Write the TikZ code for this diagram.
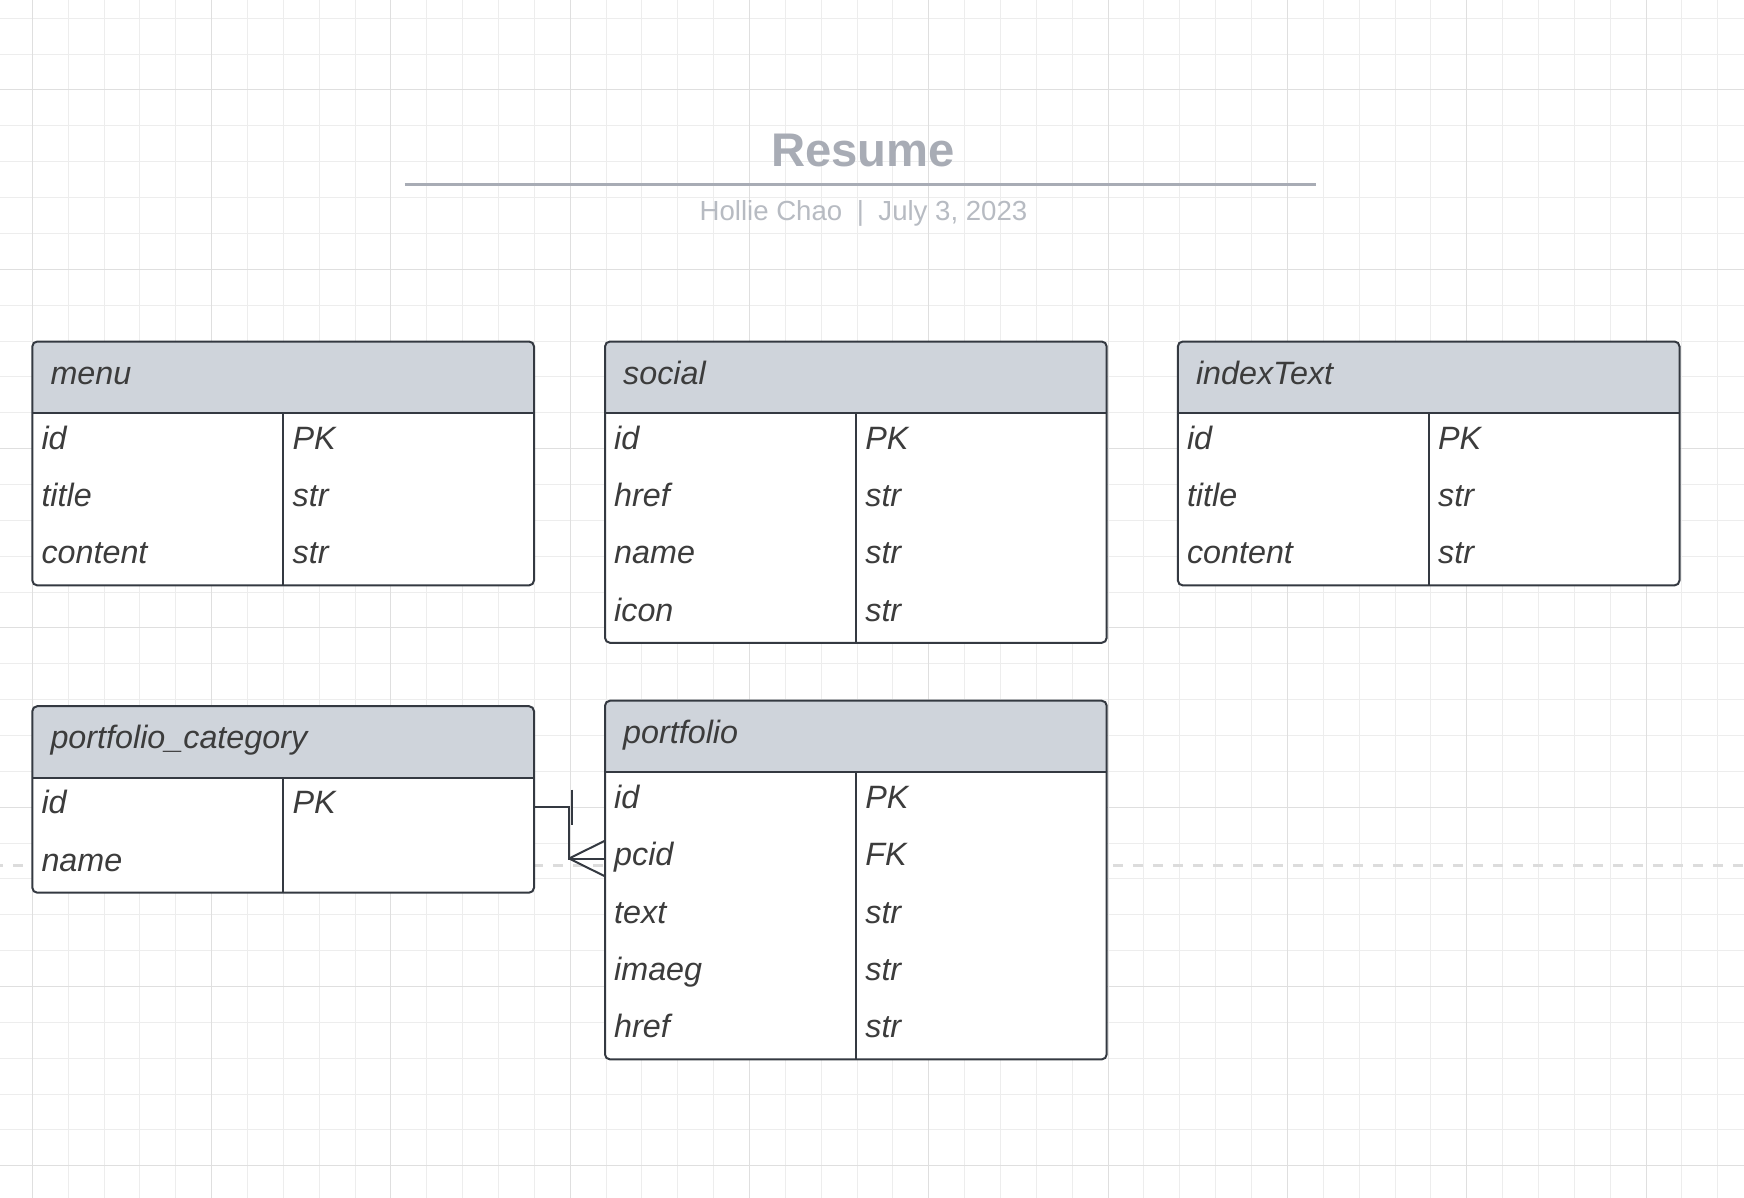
\documentclass[tikz,border=0pt]{standalone}
\usepackage{fontspec}
\setmainfont{Liberation Sans}
\usetikzlibrary{calc}
\definecolor{hdrfill}{RGB}{207,212,219}
\definecolor{lnc}{RGB}{52,57,65}
\definecolor{txc}{RGB}{60,60,60}
\definecolor{titc}{RGB}{168,172,181}
\definecolor{subc}{RGB}{183,187,194}
\definecolor{gminor}{RGB}{237,237,237}
\definecolor{gmajor}{RGB}{223,223,223}
\definecolor{dashc}{RGB}{220,220,220}
\tikzset{
  tblbox/.style={fill=white, rounded corners=5pt, minimum width=501.7pt, inner sep=0pt, outer sep=0pt},
  tblline/.style={draw=lnc, line width=2pt},
  hdrtext/.style={anchor=base west, inner sep=0pt, text=txc, font=\fontsize{32.3}{38}\selectfont\itshape},
  rowtext/.style={anchor=base west, inner sep=0pt, text=txc, font=\fontsize{32.3}{38}\selectfont\itshape},
  conn/.style={draw=lnc, line width=2pt},
  gridminor/.style={draw=gminor, line width=1pt},
  gridmajor/.style={draw=gmajor, line width=1pt},
  dashline/.style={draw=dashc, line width=3pt, dash pattern=on 10pt off 10pt},
  titletext/.style={anchor=base, inner sep=0pt, text=titc, font=\fontsize{47.2}{50}\selectfont\bfseries},
  subtext/.style={anchor=base, inner sep=0pt, text=subc, font=\fontsize{27.6}{32}\selectfont},
  titlerule/.style={draw=titc, line width=3.5pt}
}
\newcommand\ertable[6]{%
  \pgfmathsetmacro\tblH{71.7+57.4*#4}%
  \node[tblbox, minimum height=\tblH pt, anchor=north west] (#1) at (#2,#3) {};
  \fill[hdrfill, rounded corners=5pt] (#1.north west) rectangle ([yshift=-71.7pt]#1.north east);
  \fill[hdrfill] ([yshift=-20pt]#1.north west) rectangle ([yshift=-71.7pt]#1.north east);
  \draw[tblline] ([yshift=-71.7pt]#1.north west) -- ([yshift=-71.7pt]#1.north east);
  \draw[tblline] ([yshift=-71.7pt]#1.north) -- (#1.south);
  \draw[tblline, rounded corners=5pt] (#1.north west) rectangle (#1.south east);
  \node[hdrtext] (#1-t) at ([xshift=18pt,yshift=-42.5pt]#1.north west) {#5};
  \foreach \a/\b [count=\i] in {#6} {
    \node[rowtext] (#1-l\i) at ([xshift=9pt,yshift={-107.5-57.4*(\i-1)}]#1.north west) {\a};
    \node[rowtext] (#1-r\i) at ([xshift=9.3pt,yshift={-107.5-57.4*(\i-1)}]#1.north) {\b};
  }
}
\begin{document}
\begin{tikzpicture}[x=1pt,y=-1pt]
\useasboundingbox (0,0) rectangle (1744,1198);
\fill[white] (0,0) rectangle (1744,1198);
% grid
\foreach \i in {-1,...,48} {
  \pgfmathsetmacro\gx{32.3+35.86*\i}
  \draw[gridminor] (\gx,0) -- (\gx,1198);
}
\foreach \j in {-3,...,31} {
  \pgfmathsetmacro\gy{90+35.86*\j}
  \draw[gridminor] (0,\gy) -- (1744,\gy);
}
\foreach \i in {0,...,9} {
  \pgfmathsetmacro\gx{32.3+179.3*\i}
  \draw[gridmajor] (\gx,0) -- (\gx,1198);
}
\foreach \j in {0,...,6} {
  \pgfmathsetmacro\gy{90+179.3*\j}
  \draw[gridmajor] (0,\gy) -- (1744,\gy);
}
% dashed guide
\draw[dashline] (-7,865.3) -- (1751,865.3);
% title
\node[titletext] (title) at (863,166.7) {Resume};
\coordinate (ruleL) at (404.8,184.7);
\coordinate (ruleR) at (1316,184.7);
\draw[titlerule] (ruleL) -- (ruleR);
\node[subtext] (sub) at (863.5,221) {Hollie Chao\hspace{14.5pt}|\hspace{14.5pt}July 3, 2023};
% tables
\ertable{menu}{32.3}{341.5}{3}{menu}{id/PK, title/str, content/str}
\ertable{social}{605}{341.5}{4}{social}{id/PK, href/str, name/str, icon/str}
\ertable{indextext}{1177.8}{341.5}{3}{indexText}{id/PK, title/str, content/str}
\ertable{pc}{32.3}{706.2}{2}{portfolio\_category}{id/PK, name/}
\ertable{pf}{605}{700.7}{5}{portfolio}{id/PK, pcid/FK, text/str, imaeg/str, href/str}
% relationship
\coordinate (pcA) at ([yshift=-100.4pt]pc.north east);
\coordinate (pfA) at ([yshift=-157.8pt]pf.north west);
\coordinate (crow) at ($(pfA)+(-36,0)$);
\draw[conn] (pcA) -| (crow) -- (pfA);
\draw[conn] (crow) -- ([yshift=17.8pt]pfA);
\draw[conn] (crow) -- ([yshift=-17.8pt]pfA);
\draw[conn] ($(pcA)+(37.5,-17)$) -- ($(pcA)+(37.5,18)$);
\end{tikzpicture}
\end{document}
